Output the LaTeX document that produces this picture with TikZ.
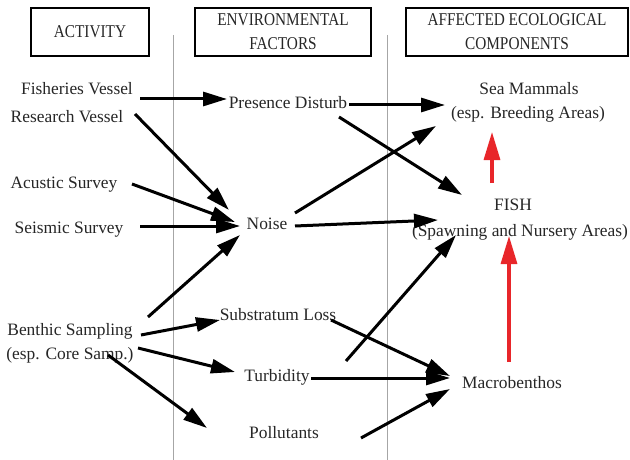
\documentclass[tikz,border=0pt]{standalone}
\usepackage{fontspec}
\setmainfont{Liberation Serif}
\newfontfamily\hdrfont[FakeStretch=0.85]{Liberation Serif}
\usetikzlibrary{arrows.meta}
\definecolor{arrred}{HTML}{E8262A}
\begin{document}
\begin{tikzpicture}[x=1pt,y=-1pt,
  hdr/.style={draw=black,line width=1.2pt,minimum height=48pt,inner sep=0pt,align=center,font=\hdrfont\fontsize{18}{24}\selectfont,text=black!85},
  lbl/.style={anchor=base,inner sep=0pt,font=\fontsize{17.4}{20}\selectfont,text=black!85},
  arr/.style={line width=3pt,-{Triangle[length=24pt,width=14pt]}},
  redarr/.style={draw=arrred,line width=3.2pt,-{Triangle[length=28pt,width=16pt]}},
  divider/.style={draw=gray!70,line width=0.8pt}]
\useasboundingbox (0,0) rectangle (630,460);
% headers
\node[hdr,minimum width=118pt] (h1) at (90,32) {ACTIVITY};
\node[hdr,minimum width=176pt] (h2) at (283,32) {ENVIRONMENTAL\\FACTORS};
\node[hdr,minimum width=222pt] (h3) at (517,32) {AFFECTED ECOLOGICAL\\COMPONENTS};
% dividers
\coordinate (d1a) at (173,35); \coordinate (d1b) at (173,460);
\coordinate (d2a) at (387,35); \coordinate (d2b) at (387,460);
\draw[divider] (d1a) -- (d1b);
\draw[divider] (d2a) -- (d2b);
% activities
\node[lbl] (fv) at (77,95) {Fisheries Vessel};
\node[lbl] (rv) at (67,122) {Research Vessel};
\node[lbl] (as) at (64,188) {Acustic Survey};
\node[lbl] (ss) at (69,233) {Seismic Survey};
\node[lbl] (bs) at (70,335) {Benthic Sampling};
\node[lbl] (bsb) at (70,359) {(esp. Core Samp.)};
% factors
\node[lbl] (pd) at (288,109) {Presence Disturb};
\node[lbl] (noise) at (267,229) {Noise};
\node[lbl] (sub) at (278,320) {Substratum Loss};
\node[lbl] (turb) at (277,381) {Turbidity};
\node[lbl] (poll) at (284,438) {Pollutants};
% components
\node[lbl] (sm) at (529,95) {Sea Mammals};
\node[lbl] (smb) at (528,119) {(esp. Breeding Areas)};
\node[lbl] (fish) at (513,210) {FISH};
\node[lbl] (fishb) at (520,236) {(Spawning and Nursery Areas)};
\node[lbl] (macro) at (512,388) {Macrobenthos};
% arrows
\draw[arr] ([shift={(63,4)}]fv.base) -- ([shift={(-61,-10)}]pd.base);
\draw[arr] ([shift={(61,-4)}]pd.base) -- ([shift={(-84,10)}]sm.base);
\draw[arr] ([shift={(68,-8)}]rv.base) -- ([shift={(-38,-19)}]noise.base);
\draw[arr] ([shift={(51,8)}]pd.base) -- ([shift={(-51,-15)}]fish.base);
\draw[arr] ([shift={(28,-16)}]noise.base) -- ([shift={(-93,31)}]sm.base);
\draw[arr] ([shift={(68,-4)}]as.base) -- ([shift={(-32,-7)}]noise.base);
\draw[arr] ([shift={(71,-7)}]ss.base) -- ([shift={(-27,-3)}]noise.base);
\draw[arr] ([shift={(28,-3)}]noise.base) -- ([shift={(-75,10)}]fish.base);
\draw[arr] ([shift={(78,-18)}]bs.base) -- ([shift={(-27,6)}]noise.base);
\draw[arr] ([shift={(69,-20)}]turb.base) -- ([shift={(-57,25)}]fish.base);
\draw[arr] ([shift={(71,0)}]bs.base) -- ([shift={(-58,0)}]sub.base);
\draw[arr] ([shift={(68,13)}]bs.base) -- ([shift={(-42,-9)}]turb.base);
\draw[arr] ([shift={(38,20)}]bs.base) -- ([shift={(-77,-10)}]poll.base);
\draw[arr] ([shift={(53,0)}]sub.base) -- ([shift={(-62,-12)}]macro.base);
\draw[arr] ([shift={(34,-3)}]turb.base) -- ([shift={(-62,-10)}]macro.base);
\draw[arr] ([shift={(77,0)}]poll.base) -- ([shift={(-62,1)}]macro.base);
\draw[redarr] ([shift={(-21,-27)}]fish.base) -- ([shift={(-37,37)}]sm.base);
\draw[redarr] ([shift={(-3,-26)}]macro.base) -- ([shift={(-4,26)}]fish.base);
\end{tikzpicture}
\end{document}
